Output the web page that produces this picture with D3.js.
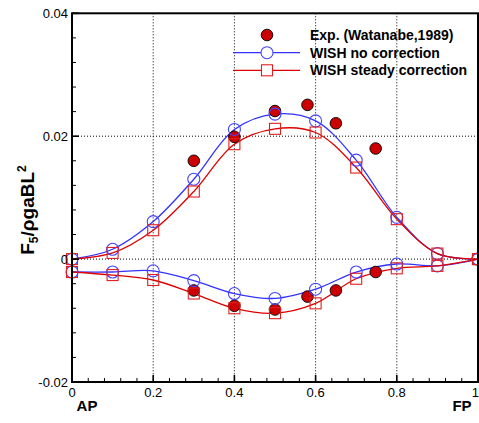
<!DOCTYPE html>
<html><head><meta charset="utf-8">
<script src="https://cdn.jsdelivr.net/npm/d3@7"></script>
<style>body{margin:0;background:#fff}svg{display:block}text{font-family:"Liberation Sans",Arial,sans-serif}</style>
</head><body>
<svg id="c" width="479" height="423"></svg>
<script>
const xs = [0,0.1,0.2,0.3,0.4,0.5,0.6,0.7,0.8,0.9,1.0];
const blueUpper = [0,0.0016,0.0061,0.0130,0.0211,0.0236,0.0225,0.0161,0.0068,0.0009,0];
const redUpper  = [0,0.0010,0.0047,0.0110,0.0187,0.0212,0.0206,0.0149,0.0065,0.0009,0];
const blueLower = [-0.0021,-0.0021,-0.0019,-0.0035,-0.0056,-0.0064,-0.0049,-0.0021,-0.0008,-0.0011,0];
const redLower  = [-0.0021,-0.0026,-0.0034,-0.0056,-0.0080,-0.0088,-0.0072,-0.0032,-0.0015,-0.0011,0];
const expX = [0.3,0.4,0.5,0.58,0.65,0.748];
const expUpper = [0.0160,0.0199,0.0241,0.0251,0.0221,0.0180];
const expLower = [-0.0051,-0.0076,-0.0082,-0.0061,-0.0051,-0.0021];
const xTicks = [0,0.2,0.4,0.6,0.8,1];
const xTickLabels = ["0","0.2","0.4","0.6","0.8","1"];
const yTicks = [-0.02,0,0.02,0.04];
const yTickLabels = ["-0.02","0","0.02","0.04"];
const legendLabels = ["Exp. (Watanabe,1989)","WISH no correction","WISH steady correction"];

const svg = d3.select("#c");
const L=72, R=478, T=13.3, B=382;
const x = d3.scaleLinear().domain([0,1]).range([L,R]);
const y = d3.scaleLinear().domain([-0.02,0.04]).range([B,T]);
const blue="#3333ff", red="#dd0000";

// grid
const g = svg.append("g");
[0.2,0.4,0.6,0.8].forEach(v=>g.append("line").attr("x1",x(v)).attr("x2",x(v)).attr("y1",T).attr("y2",B)
  .attr("stroke","#000").attr("stroke-width",1).attr("stroke-dasharray","1,2"));
[0,0.02].forEach(v=>g.append("line").attr("x1",L).attr("x2",R).attr("y1",y(v)).attr("y2",y(v))
  .attr("stroke","#000").attr("stroke-width",1).attr("stroke-dasharray","1,2"));

// curves
const line = d3.line().x(d=>x(d[0])).y(d=>y(d[1])).curve(d3.curveCatmullRom.alpha(0.5));
function series(vals,color){
  const pts = xs.map((v,i)=>[v,vals[i]]);
  svg.append("path").datum(pts).attr("d",line).attr("fill","none").attr("stroke",color).attr("stroke-width",1.3);
}
series(blueUpper,blue); series(blueLower,blue);
series(redUpper,red); series(redLower,red);

function circles(vals){
  svg.append("g").selectAll("circle").data(xs.map((v,i)=>[v,vals[i]])).join("circle")
   .attr("cx",d=>x(d[0])).attr("cy",d=>y(d[1])).attr("r",6).attr("fill","none").attr("stroke","#4444ff").attr("stroke-width",1.1);
}
function squares(vals){
  svg.append("g").selectAll("rect").data(xs.map((v,i)=>[v,vals[i]])).join("rect")
   .attr("x",d=>x(d[0])-5.5).attr("y",d=>y(d[1])-5.5).attr("width",11).attr("height",11)
   .attr("fill","none").attr("stroke","#e02020").attr("stroke-width",1.1);
}
function exps(vals){
  svg.append("g").selectAll("circle").data(expX.map((v,i)=>[v,vals[i]])).join("circle")
   .attr("cx",d=>x(d[0])).attr("cy",d=>y(d[1])).attr("r",5.8).attr("fill","#cc0000").attr("stroke","#000").attr("stroke-width",0.9);
}
exps(expUpper); exps(expLower);
circles(blueUpper); circles(blueLower);
squares(redUpper); squares(redLower);

// axes
const ax = svg.append("g");
d3.range(0,1.0001,0.04).forEach((v,i)=>{
  const major = Math.abs(v/0.2-Math.round(v/0.2))<1e-6;
  const len = major?7:4;
  ax.append("line").attr("x1",x(v)).attr("x2",x(v)).attr("y1",B).attr("y2",B-len).attr("stroke","#000").attr("stroke-width",major?1.6:1);
});
d3.range(-0.02,0.04001,0.004).forEach(v=>{
  const major = Math.abs(v/0.02-Math.round(v/0.02))<1e-6;
  const len = major?7:4;
  ax.append("line").attr("x1",L).attr("x2",L+len).attr("y1",y(v)).attr("y2",y(v)).attr("stroke","#000").attr("stroke-width",major?1.6:1);
});
ax.append("rect").attr("x",L).attr("y",T).attr("width",R-L).attr("height",B-T).attr("fill","none").attr("stroke","#000").attr("stroke-width",2);

xTicks.forEach((v,i)=>ax.append("text").attr("x",v===1?479:x(v)).attr("y",B+15).attr("text-anchor",v===1?"end":"middle")
  .attr("font-size",13).attr("fill","#000").text(xTickLabels[i]));
yTicks.forEach((v,i)=>ax.append("text").attr("x",L-4).attr("y",y(v)+4.5).attr("text-anchor","end")
  .attr("font-size",13).attr("fill","#000").text(yTickLabels[i]));

svg.append("text").attr("x",87).attr("y",411).attr("text-anchor","middle").attr("font-size",15).attr("font-weight","bold").text("AP");
svg.append("text").attr("x",462).attr("y",411).attr("text-anchor","middle").attr("font-size",15).attr("font-weight","bold").text("FP");

// y label
const yl = svg.append("text").attr("transform","translate(34,210) rotate(-90)").attr("text-anchor","middle")
  .attr("font-size",19).attr("font-weight","bold");
yl.append("tspan").text("F");
yl.append("tspan").attr("font-size",12).attr("dy",4).text("5");
yl.append("tspan").attr("dy",-4).text("/ρgaBL");
yl.append("tspan").attr("font-size",12).attr("dy",-8).text("2");

// legend
const lg = svg.append("g");
const ly = [35,52.7,70.3];
lg.append("circle").attr("cx",267).attr("cy",ly[0]).attr("r",5.8).attr("fill","#cc0000").attr("stroke","#000").attr("stroke-width",0.9);
lg.append("line").attr("x1",233).attr("x2",300).attr("y1",ly[1]).attr("y2",ly[1]).attr("stroke",blue).attr("stroke-width",1.3);
lg.append("circle").attr("cx",267).attr("cy",ly[1]).attr("r",6).attr("fill","#fff").attr("stroke","#4444ff").attr("stroke-width",1.1);
lg.append("line").attr("x1",233).attr("x2",300).attr("y1",ly[2]).attr("y2",ly[2]).attr("stroke",red).attr("stroke-width",1.3);
lg.append("rect").attr("x",261.5).attr("y",ly[2]-5.5).attr("width",11).attr("height",11).attr("fill","#fff").attr("stroke","#e02020").attr("stroke-width",1.1);
legendLabels.forEach((t,i)=>lg.append("text").attr("x",310).attr("y",ly[i]+5).attr("font-size",14).attr("font-weight","bold").text(t));
</script>
</body></html>
